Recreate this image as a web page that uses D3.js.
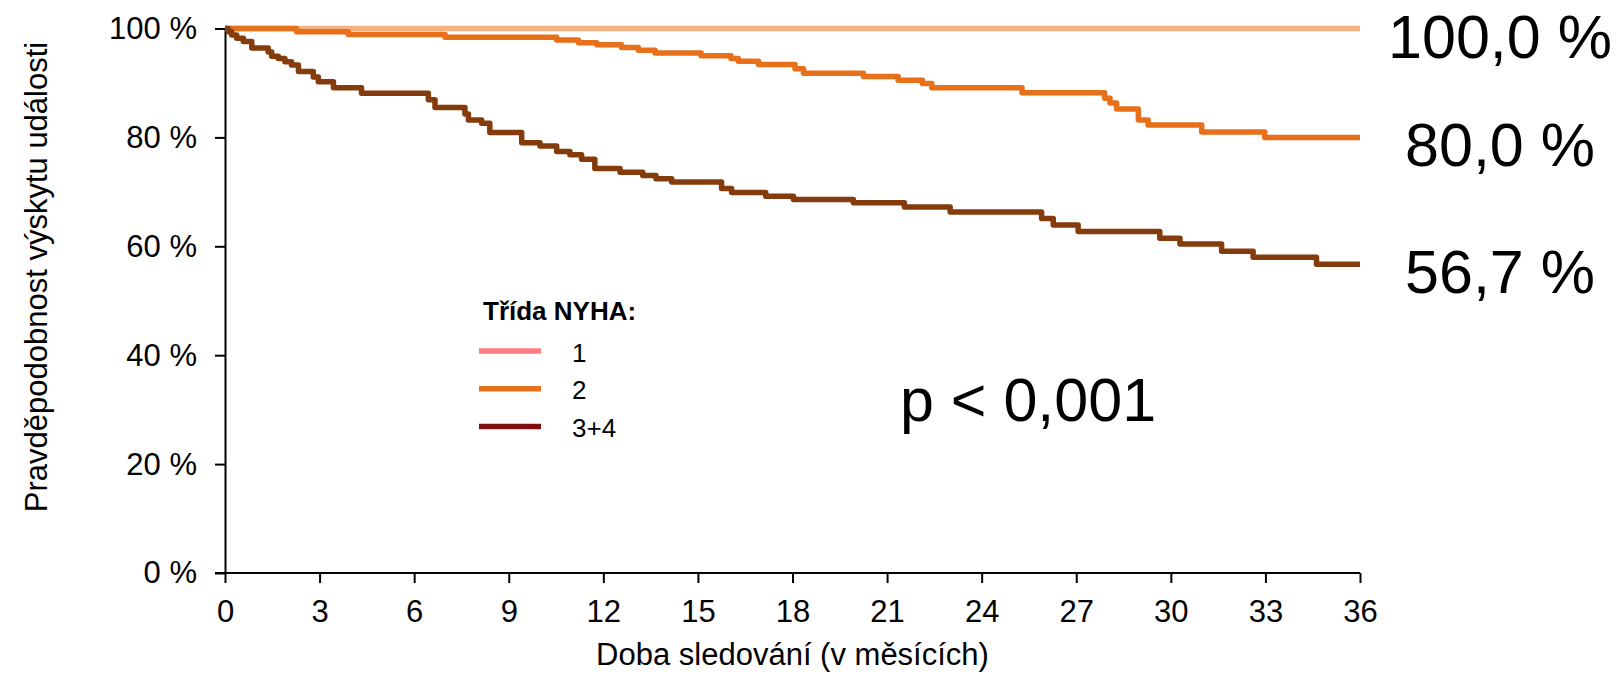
<!DOCTYPE html>
<html>
<head>
<meta charset="utf-8">
<script src="https://cdn.jsdelivr.net/npm/d3@7"></script>
<style>
  body { margin: 0; background: #fff; }
  svg { display: block; font-family: "Liberation Sans", Arial, sans-serif; }
  .axis path, .axis line { stroke: #000; stroke-width: 2px; }
  .axis text { font-size: 31px; fill: #000; }
</style>
</head>
<body>
<svg id="chart" width="1616" height="675"></svg>
<script>
// Kaplan-Meier steps: time (months) and survival without event (%)
const nyha1Times = [0];
const nyha1Surv = [100];

const nyha2Times = [0, 2.27, 3.91, 6.98, 10.52, 11.21, 11.79, 12.58, 13.11, 13.64, 15.1, 16.05, 16.28, 16.92,
  18.08, 18.35, 20.25, 21.35, 22.12, 22.42, 25.28, 27.9, 28.07, 28.28, 28.97, 29.28, 30.98, 32.98];
const nyha2Surv = [100, 99.4, 98.9, 98.4, 97.9, 97.4, 97.0, 96.5, 96.0, 95.5, 95.0, 94.5, 94.0, 93.4,
  92.6, 91.8, 91.2, 90.5, 89.9, 89.1, 88.2, 87.2, 86.3, 85.2, 83.2, 82.3, 81.0, 80.0];

const nyha34Times = [0, 0.1, 0.21, 0.37, 0.58, 0.85, 1.37, 1.48, 1.69, 1.9, 2.11, 2.33, 2.8, 2.96, 3.44, 4.33,
  6.45, 6.66, 7.61, 7.72, 8.14, 8.4, 9.41, 9.99, 10.52, 10.94, 11.31, 11.73, 12.53, 13.25, 13.67, 14.17,
  15.75, 16.07, 17.15, 18.03, 19.93, 21.55, 23.0, 25.9, 26.27, 27.06, 29.65, 30.29, 31.61, 32.61, 34.62];
const nyha34Surv = [100, 99.4, 98.8, 98.2, 97.6, 96.4, 95.7, 94.9, 94.5, 93.9, 93.3, 92.1, 91.1, 90.2, 89.1, 88.1,
  86.9, 85.5, 84.3, 83.2, 82.6, 80.9, 79.0, 78.4, 77.4, 76.8, 76.0, 74.3, 73.6, 73.0, 72.4, 71.8,
  70.6, 69.9, 69.2, 68.6, 68.0, 67.2, 66.3, 65.1, 63.9, 62.7, 61.5, 60.4, 59.1, 58.0, 56.7];

const legendNames = ["1", "2", "3+4"];
const xTicks = [0, 3, 6, 9, 12, 15, 18, 21, 24, 27, 30, 33, 36];
const yTicks = [0, 20, 40, 60, 80, 100];
const maxTime = 36;
const pText = "p < 0,001";

const curveColors = ["#F4B183", "#E8701A", "#843C0C"];
const legendColors = ["#FF7C80", "#E8701A", "#7F0C11"];

const svg = d3.select("#chart");

const x = d3.scaleLinear().domain([0, maxTime]).range([225, 1360]);
const y = d3.scaleLinear().domain([0, 100]).range([573, 28.5]);

const series = [
  { times: nyha1Times, surv: nyha1Surv },
  { times: nyha2Times, surv: nyha2Surv },
  { times: nyha34Times, surv: nyha34Surv },
].map((s, i) => {
  const pts = s.times.map((t, j) => [t, s.surv[j]]);
  pts.push([maxTime, s.surv[s.surv.length - 1]]);
  return { pts, color: curveColors[i], last: s.surv[s.surv.length - 1] };
});

// axes
svg.append("g")
  .attr("class", "axis")
  .attr("transform", `translate(0,${y(0)})`)
  .call(d3.axisBottom(x).tickValues(xTicks).tickSize(10).tickSizeOuter(0).tickPadding(17))
  .call(g => g.select(".domain").attr("d", `M${x(0) - 10},0H${x(maxTime)}`));

svg.append("g")
  .attr("class", "axis")
  .attr("transform", `translate(${x(0)},0)`)
  .call(d3.axisLeft(y).tickValues(yTicks).tickSize(10).tickSizeOuter(0).tickPadding(18)
    .tickFormat(d => d + " %"));

svg.selectAll(".axis text").attr("font-family", "Liberation Sans, Arial, sans-serif");

// curves
const line = d3.line()
  .x(d => x(d[0]))
  .y(d => y(d[1]))
  .curve(d3.curveStepAfter);

svg.append("g").selectAll("path")
  .data(series)
  .join("path")
  .attr("d", d => line(d.pts))
  .attr("fill", "none")
  .attr("stroke", d => d.color)
  .attr("stroke-width", 5.5)
  .attr("stroke-linejoin", "round");

// end values on the right
const fmt = v => d3.format(".1f")(v).replace(".", ",") + " %";
svg.append("g").selectAll("text")
  .data(series)
  .join("text")
  .attr("x", 1500)
  .attr("y", d => y(d.last) + 29)
  .attr("text-anchor", "middle")
  .attr("font-size", 61)
  .text(d => fmt(d.last));

// legend
const legend = svg.append("g").attr("transform", "translate(479,320)");
legend.append("text")
  .attr("x", 4)
  .attr("y", 0)
  .attr("font-size", 26)
  .attr("font-weight", "bold")
  .text("Třída NYHA:");
const item = legend.selectAll("g.item")
  .data(legendNames)
  .join("g")
  .attr("class", "item")
  .attr("transform", (d, i) => `translate(0,${31 + i * 37.8})`);
item.append("line")
  .attr("x1", 0).attr("x2", 62)
  .attr("stroke", (d, i) => legendColors[i])
  .attr("stroke-width", 5.5);
item.append("text")
  .attr("x", 93)
  .attr("y", 10.5)
  .attr("font-size", 26)
  .text(d => d);

// p-value
svg.append("text")
  .attr("x", 900)
  .attr("y", 421)
  .attr("font-size", 61)
  .text(pText);

// axis titles
svg.append("text")
  .attr("x", (x(0) + x(maxTime)) / 2)
  .attr("y", 665)
  .attr("text-anchor", "middle")
  .attr("font-size", 31)
  .text("Doba sledování (v měsících)");

svg.append("text")
  .attr("transform", "translate(36,277) rotate(-90)")
  .attr("text-anchor", "middle")
  .attr("dominant-baseline", "central")
  .attr("font-size", 31)
  .text("Pravděpodobnost výskytu události");
</script>
</body>
</html>
